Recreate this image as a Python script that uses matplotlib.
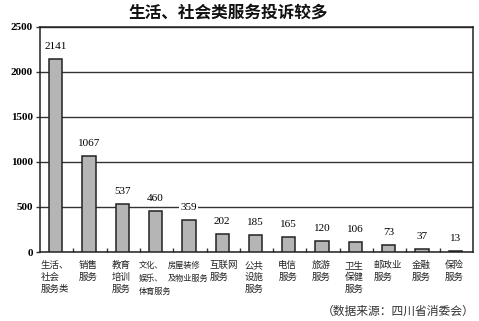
import numpy as np
import matplotlib
matplotlib.use('Agg')
import matplotlib.pyplot as plt

plt.rcParams['font.family'] = ['Noto Sans CJK SC', 'DejaVu Sans']

categories = ['生活、\n社会\n服务类', '销售\n服务', '教育\n培训\n服务', '文化、\n娱乐、\n体育服务',
              '房屋装修\n及物业服务', '互联网\n服务', '公共\n设施\n服务', '电信\n服务', '旅游\n服务',
              '卫生\n保健\n服务', '邮政业\n服务', '金融\n服务', '保险\n服务']
values = [2141, 1067, 537, 460, 359, 202, 185, 165, 120, 106, 73, 37, 13]
yticks = [0, 500, 1000, 1500, 2000, 2500]

fig = plt.figure(figsize=(4.79, 3.21), dpi=100)
ax = fig.add_axes([40/479, 1-252/321, 433/479, 225/321])

x = np.arange(len(values)) + 0.47
ax.bar(x, values, width=0.4, color='#b5b5b5', edgecolor='#222222', linewidth=1.1, zorder=3)

for i, v in enumerate(values):
    ax.annotate(str(v), (x[i], v), xytext=(0, 9), textcoords='offset points',
                ha='center', va='center', fontsize=8, family='Liberation Serif',
                bbox=dict(facecolor='white', edgecolor='none', pad=1), zorder=4)

ax.set_xlim(0, len(values))
ax.set_ylim(0, 2500)
ax.set_yticks(yticks)
ax.set_yticklabels([str(t) for t in yticks], family='Liberation Serif', fontsize=8, fontweight='bold')
ax.yaxis.grid(True, color='#333333', linewidth=1.0, zorder=0)
ax.set_axisbelow(True)

ax.set_xticks(np.arange(1, len(values)))
ax.set_xticklabels([])
ax.tick_params(axis='x', direction='in', length=3, width=1, color='#333333')
ax.tick_params(axis='y', length=3, width=1, color='#333333', pad=2)
for s in ax.spines.values():
    s.set_color('#222222')
    s.set_linewidth(1.1)

# the two long labels are squeezed in the original
for i, c in enumerate(categories):
    fs = 5.9 if i in (3, 4) else 6.8
    dx = 0.06 if i == 5 else -0.03
    ax.text(x[i] + dx, -100, c, ha='center', va='top', ma='left', fontsize=fs,
            linespacing=1.6 if fs < 6 else 1.4, color='#222222')

fig.text(228/479, 1-13/321, '生活、社会类服务投诉较多', ha='center', va='center',
         fontsize=12, fontweight='bold', color='#111111')
fig.text(474/479, 1-311/321, '（数据来源：四川省消委会）', ha='right', va='center',
         fontsize=8.5, color='#333333')

fig.savefig('out.png', dpi=100)
